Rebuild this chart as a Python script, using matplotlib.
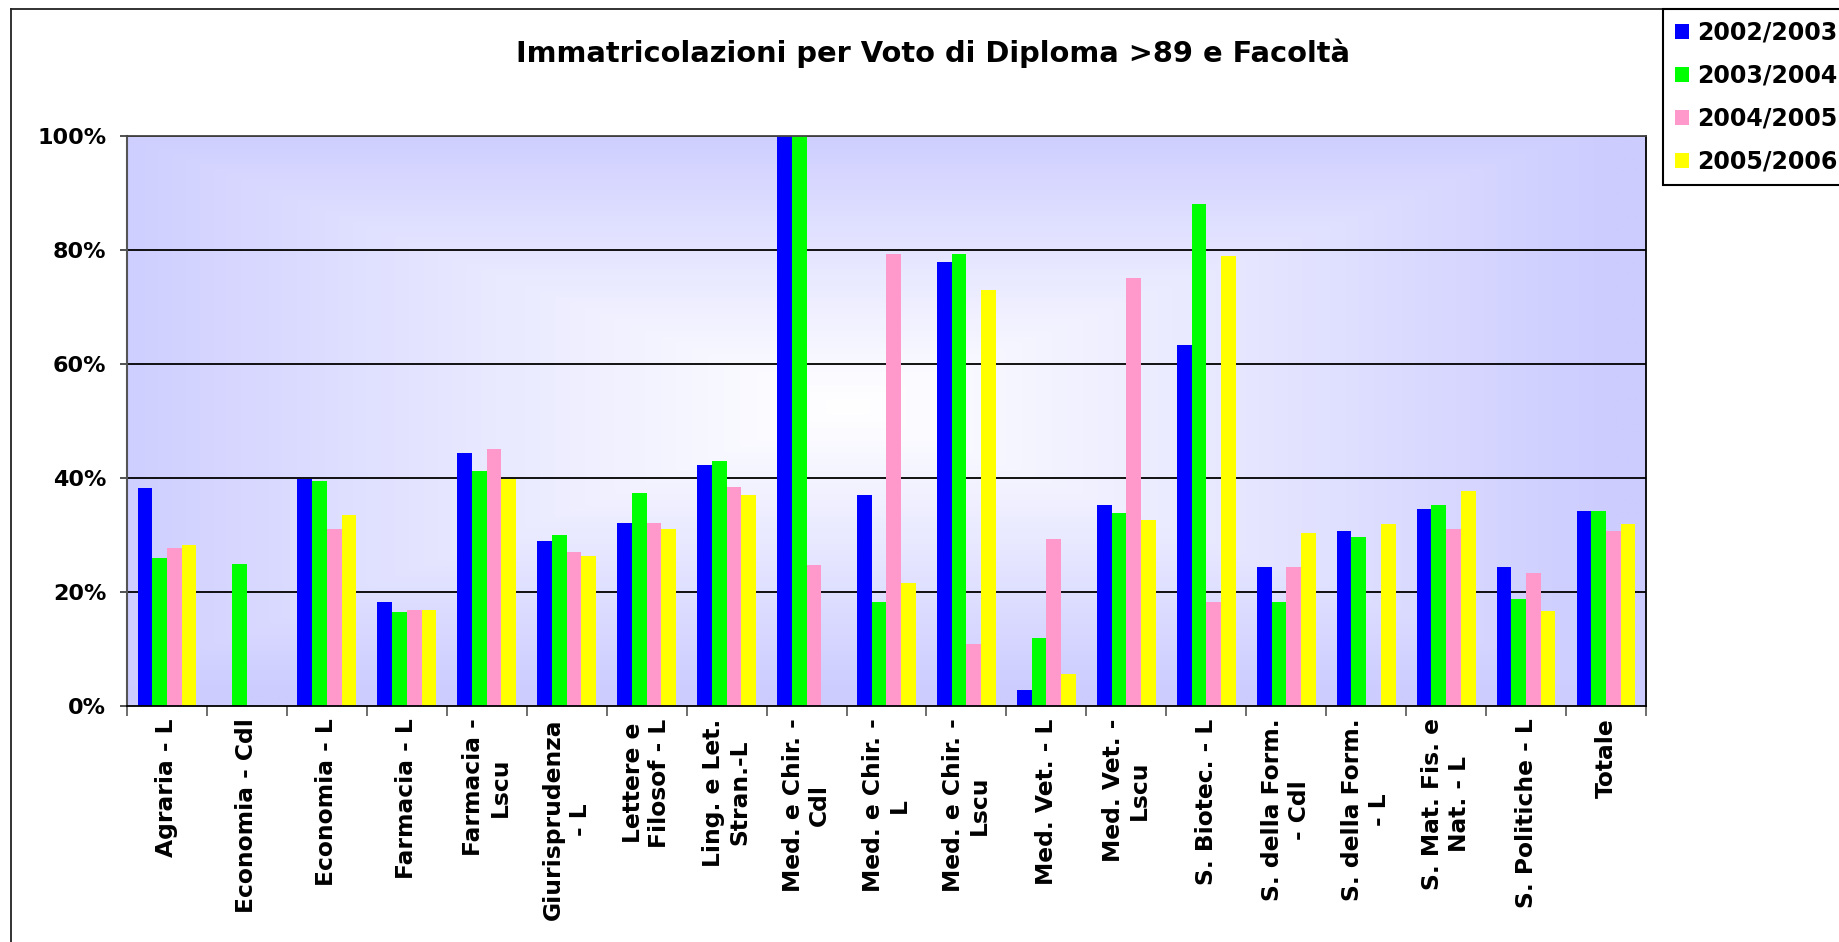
import numpy as np
import matplotlib
matplotlib.use("Agg")
import matplotlib.pyplot as plt
from matplotlib.lines import Line2D

categories = [
    "Agraria - L", "Economia - Cdl", "Economia - L", "Farmacia - L",
    "Farmacia -\nLscu", "Giurisprudenza\n- L", "Lettere e\nFilosof - L",
    "Ling. e Let.\nStran.-L", "Med. e Chir. -\nCdl", "Med. e Chir. -\nL",
    "Med. e Chir. -\nLscu", "Med. Vet. - L", "Med. Vet. -\nLscu",
    "S. Biotec. - L", "S. della Form.\n- Cdl", "S. della Form.\n- L",
    "S. Mat. Fis. e\nNat. - L", "S. Politiche - L", "Totale",
]
series_names = ["2002/2003", "2003/2004", "2004/2005", "2005/2006"]
nan = np.nan
v2002 = [38.3, nan, 39.8, 18.3, 44.4, 28.9, 32.1, 42.3, 100.0, 37.0,
         77.9, 2.8, 35.2, 63.4, 24.3, 30.7, 34.6, 24.3, 34.2]
v2003 = [26.0, 25.0, 39.4, 16.5, 41.3, 30.0, 37.3, 43.0, 100.0, 18.3,
         79.3, 12.0, 33.8, 88.1, 18.3, 29.6, 35.2, 18.7, 34.2]
v2004 = [27.8, nan, 31.0, 16.9, 45.1, 27.1, 32.1, 38.4, 24.7, 79.3,
         10.9, 29.3, 75.1, 18.3, 24.3, nan, 31.0, 23.3, 30.7]
v2005 = [28.2, nan, 33.5, 16.9, 39.9, 26.4, 31.0, 37.0, nan, 21.6,
         73.0, 5.7, 32.7, 78.9, 30.3, 32.0, 37.7, 16.6, 32.0]
series_values = [v2002, v2003, v2004, v2005]
colors = ["#0000FF", "#00FF00", "#FF99CC", "#FFFF00"]
yticks = [0, 20, 40, 60, 80, 100]
ytick_labels = ["0%", "20%", "40%", "60%", "80%", "100%"]

W, H = 1840, 942
fig = plt.figure(figsize=(W / 100, H / 100), dpi=100)
fig.patch.set_facecolor("white")

ax = fig.add_axes([127 / W, 1 - 706 / H, (1646 - 127) / W, (706 - 136) / H])

n = len(categories)
x = np.arange(n)
bw = 0.184
ax.set_xlim(-0.5, n - 0.5)
ax.set_ylim(0, 100)

# background gradient (rectangular "from centre")
gx = np.linspace(-1, 1, 400)
gy = np.linspace(-1, 1, 200)
GX, GY = np.meshgrid(gx, gy)
t = np.maximum(np.abs(GX + 0.05), np.abs(GY - 0.05))
t = np.clip(t, 0, 1) ** 1.1
edge = np.array([204, 204, 255]) / 255.0
centre = np.array([1.0, 1.0, 1.0])
img = centre[None, None, :] * (1 - t[..., None]) + edge[None, None, :] * t[..., None]
ax.imshow(img, extent=(-0.5, n - 0.5, 0, 100), aspect="auto", zorder=0,
          interpolation="bilinear", origin="lower")

for yv in yticks[1:]:
    ax.axhline(yv, color="black", lw=1.3, zorder=1)

handles = []
for j, (vals, c, name) in enumerate(zip(series_values, colors, series_names)):
    b = ax.bar(x + (j - 1.5) * bw, vals, width=bw, color=c, edgecolor="none",
               zorder=2, label=name)
    handles.append(b)

ax.set_yticks(yticks)
ax.set_yticklabels(ytick_labels, fontsize=16, fontweight="bold")
ax.tick_params(axis="y", length=5, width=1.2, pad=10, color="#333333")

ax.set_xticks(np.arange(n + 1) - 0.5)
ax.set_xticklabels([])
ax.set_xticks(x, minor=True)
ax.set_xticklabels(categories, minor=True, rotation=90, fontsize=16.8,
                   fontweight="bold", ha="center", va="top",
                   multialignment="center")
ax.tick_params(axis="x", which="major", length=7, width=1.2, color="#555555")
ax.tick_params(axis="x", which="minor", length=0, pad=9)

for side in ["bottom", "right"]:
    ax.spines[side].set_color("black")
    ax.spines[side].set_linewidth(1.3)
ax.spines["left"].set_color("#555555")
ax.spines["left"].set_linewidth(1.5)
ax.spines["top"].set_color("#444444")
ax.spines["top"].set_linewidth(1.3)

fig.text(933 / W, 1 - 53 / H, "Immatricolazioni per Voto di Diploma >89 e Facoltà",
         ha="center", va="center", fontsize=20.8, fontweight="bold")

leg = fig.legend(handles=handles, labels=series_names, loc="upper left",
                 bbox_to_anchor=(1663 / W, 1 - 9 / H), borderaxespad=0,
                 frameon=True, fancybox=False, edgecolor="black", framealpha=1,
                 prop={"size": 17, "weight": "bold"},
                 handlelength=0.6, handleheight=0.6, handletextpad=0.35,
                 labelspacing=0.8, borderpad=0.5)
leg.get_frame().set_linewidth(1.5)

# outer chart border
fig.add_artist(Line2D([11 / W, 11 / W], [0, 1 - 9 / H], transform=fig.transFigure,
                      color="#222222", lw=1.3))
fig.add_artist(Line2D([11 / W, 1], [1 - 9 / H, 1 - 9 / H], transform=fig.transFigure,
                      color="#222222", lw=1.3))

fig.savefig("out.png", dpi=100)
